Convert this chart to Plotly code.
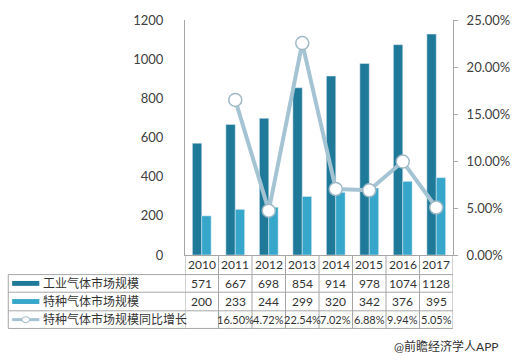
import plotly.graph_objects as go

years = ["2010", "2011", "2012", "2013", "2014", "2015", "2016", "2017"]
industrial = [571, 667, 698, 854, 914, 978, 1074, 1128]
special = [200, 233, 244, 299, 320, 342, 376, 395]
growth = [None, 16.50, 4.72, 22.54, 7.02, 6.88, 9.94, 5.05]
series_names = ["工业气体市场规模", "特种气体市场规模", "特种气体市场规模同比增长"]
source_text = "@前瞻经济学人APP"

DARK = "#1F7A99"
LIGHT = "#36A7CA"
LINE = "#A5C4D3"
GRID = "#A6A6A6"
TXT = "#333333"
FONT = "Lato, Noto Sans CJK SC, sans-serif"

W, L, T, H = 276, 185, 15, 240


def px(x):
    return (x - L) / W


def py(y):
    return (T + H - y) / H


idx = list(range(len(years)))

fig = go.Figure()
fig.add_trace(go.Bar(x=idx, y=industrial, name=series_names[0], marker_color=DARK))
fig.add_trace(go.Bar(x=idx, y=special, name=series_names[1], marker_color=LIGHT))
fig.add_trace(go.Scatter(
    x=idx, y=[g / 100 if g is not None else None for g in growth],
    name=series_names[2], yaxis="y2", mode="lines+markers",
    line=dict(color=LINE, width=4),
    marker=dict(size=13, color="white", line=dict(color="#9FB9C6", width=1.5)),
))

shapes = []
for yy in [275, 293, 312, 330]:
    shapes.append(dict(type="line", xref="paper", yref="paper", x0=px(3), x1=1,
                       y0=py(yy), y1=py(yy), line=dict(color=GRID, width=1)))
for i in range(len(years) + 1):
    shapes.append(dict(type="line", xref="x", yref="paper", x0=i - 0.5, x1=i - 0.5,
                       y0=py(255), y1=py(330), line=dict(color=GRID, width=1)))
shapes.append(dict(type="line", xref="paper", yref="paper", x0=px(3), x1=px(3),
                   y0=py(275), y1=py(330), line=dict(color=GRID, width=1)))

row_y = [284, 302.5, 321]
shapes.append(dict(type="rect", xref="paper", yref="paper", x0=px(7), x1=px(35),
                   y0=py(row_y[0] + 2.5), y1=py(row_y[0] - 2.5), fillcolor=DARK, line_width=0))
shapes.append(dict(type="rect", xref="paper", yref="paper", x0=px(7), x1=px(35),
                   y0=py(row_y[1] + 2.5), y1=py(row_y[1] - 2.5), fillcolor=LIGHT, line_width=0))
shapes.append(dict(type="line", xref="paper", yref="paper", x0=px(7), x1=px(35),
                   y0=py(row_y[2]), y1=py(row_y[2]), line=dict(color=LINE, width=3)))
shapes.append(dict(type="circle", xref="paper", yref="paper", x0=px(17), x1=px(25),
                   y0=py(row_y[2] + 3), y1=py(row_y[2] - 3), fillcolor="white",
                   line=dict(color="#9FB9C6", width=1)))

annotations = []
for r, name in enumerate(series_names):
    annotations.append(dict(x=px(37), y=py(row_y[r]), xref="paper", yref="paper",
                            text=name, showarrow=False, xanchor="left", yanchor="middle",
                            font=dict(size=12, color=TXT, family=FONT)))
rows = [
    [str(v) for v in industrial],
    [str(v) for v in special],
    ["" if g is None else f"{g:.2f}%" for g in growth],
]
for r, vals in enumerate(rows):
    for i, v in zip(idx, vals):
        if v:
            annotations.append(dict(x=i, y=py(row_y[r]), xref="x", yref="paper", text=v,
                                    showarrow=False, xanchor="center", yanchor="middle",
                                    font=dict(size=12 if r < 2 else 11, color=TXT, family=FONT)))
for i, yr in zip(idx, years):
    annotations.append(dict(x=i, y=py(265), xref="x", yref="paper", text=yr,
                            showarrow=False, xanchor="center", yanchor="middle",
                            font=dict(size=12, color=TXT, family=FONT)))
annotations.append(dict(x=px(510), y=py(348), xref="paper", yref="paper", text=source_text,
                        showarrow=False, xanchor="right", yanchor="middle",
                        font=dict(size=12, color=TXT, family=FONT)))

fig.update_layout(
    width=522, height=363,
    margin=dict(l=L, r=522 - L - W, t=T, b=363 - T - H),
    paper_bgcolor="white", plot_bgcolor="white",
    barmode="group", bargap=0.44, bargroupgap=0,
    showlegend=False,
    font=dict(family=FONT, size=13, color="#404040"),
    xaxis=dict(showline=True, linecolor=GRID, linewidth=1, ticks="", showgrid=False,
               showticklabels=False, range=[-0.5, 7.5], zeroline=False),
    yaxis=dict(range=[0, 1200], dtick=200, showgrid=False, showline=True,
               linecolor=GRID, linewidth=1, ticks="", ticklabelstandoff=18,
               tickfont=dict(size=13, color="#404040"), zeroline=False),
    yaxis2=dict(range=[0, 0.25], dtick=0.05, tickformat=".2%", overlaying="y",
                side="right", showgrid=False, showline=True, linecolor=GRID,
                ticks="outside", ticklen=4, tickcolor=GRID, zeroline=False,
                ticklabelstandoff=6, tickfont=dict(size=13, color="#404040")),
    shapes=shapes, annotations=annotations,
)

fig.write_html("out.html", config={"displayModeBar": False},
               post_script="document.body.style.margin='0px';")
